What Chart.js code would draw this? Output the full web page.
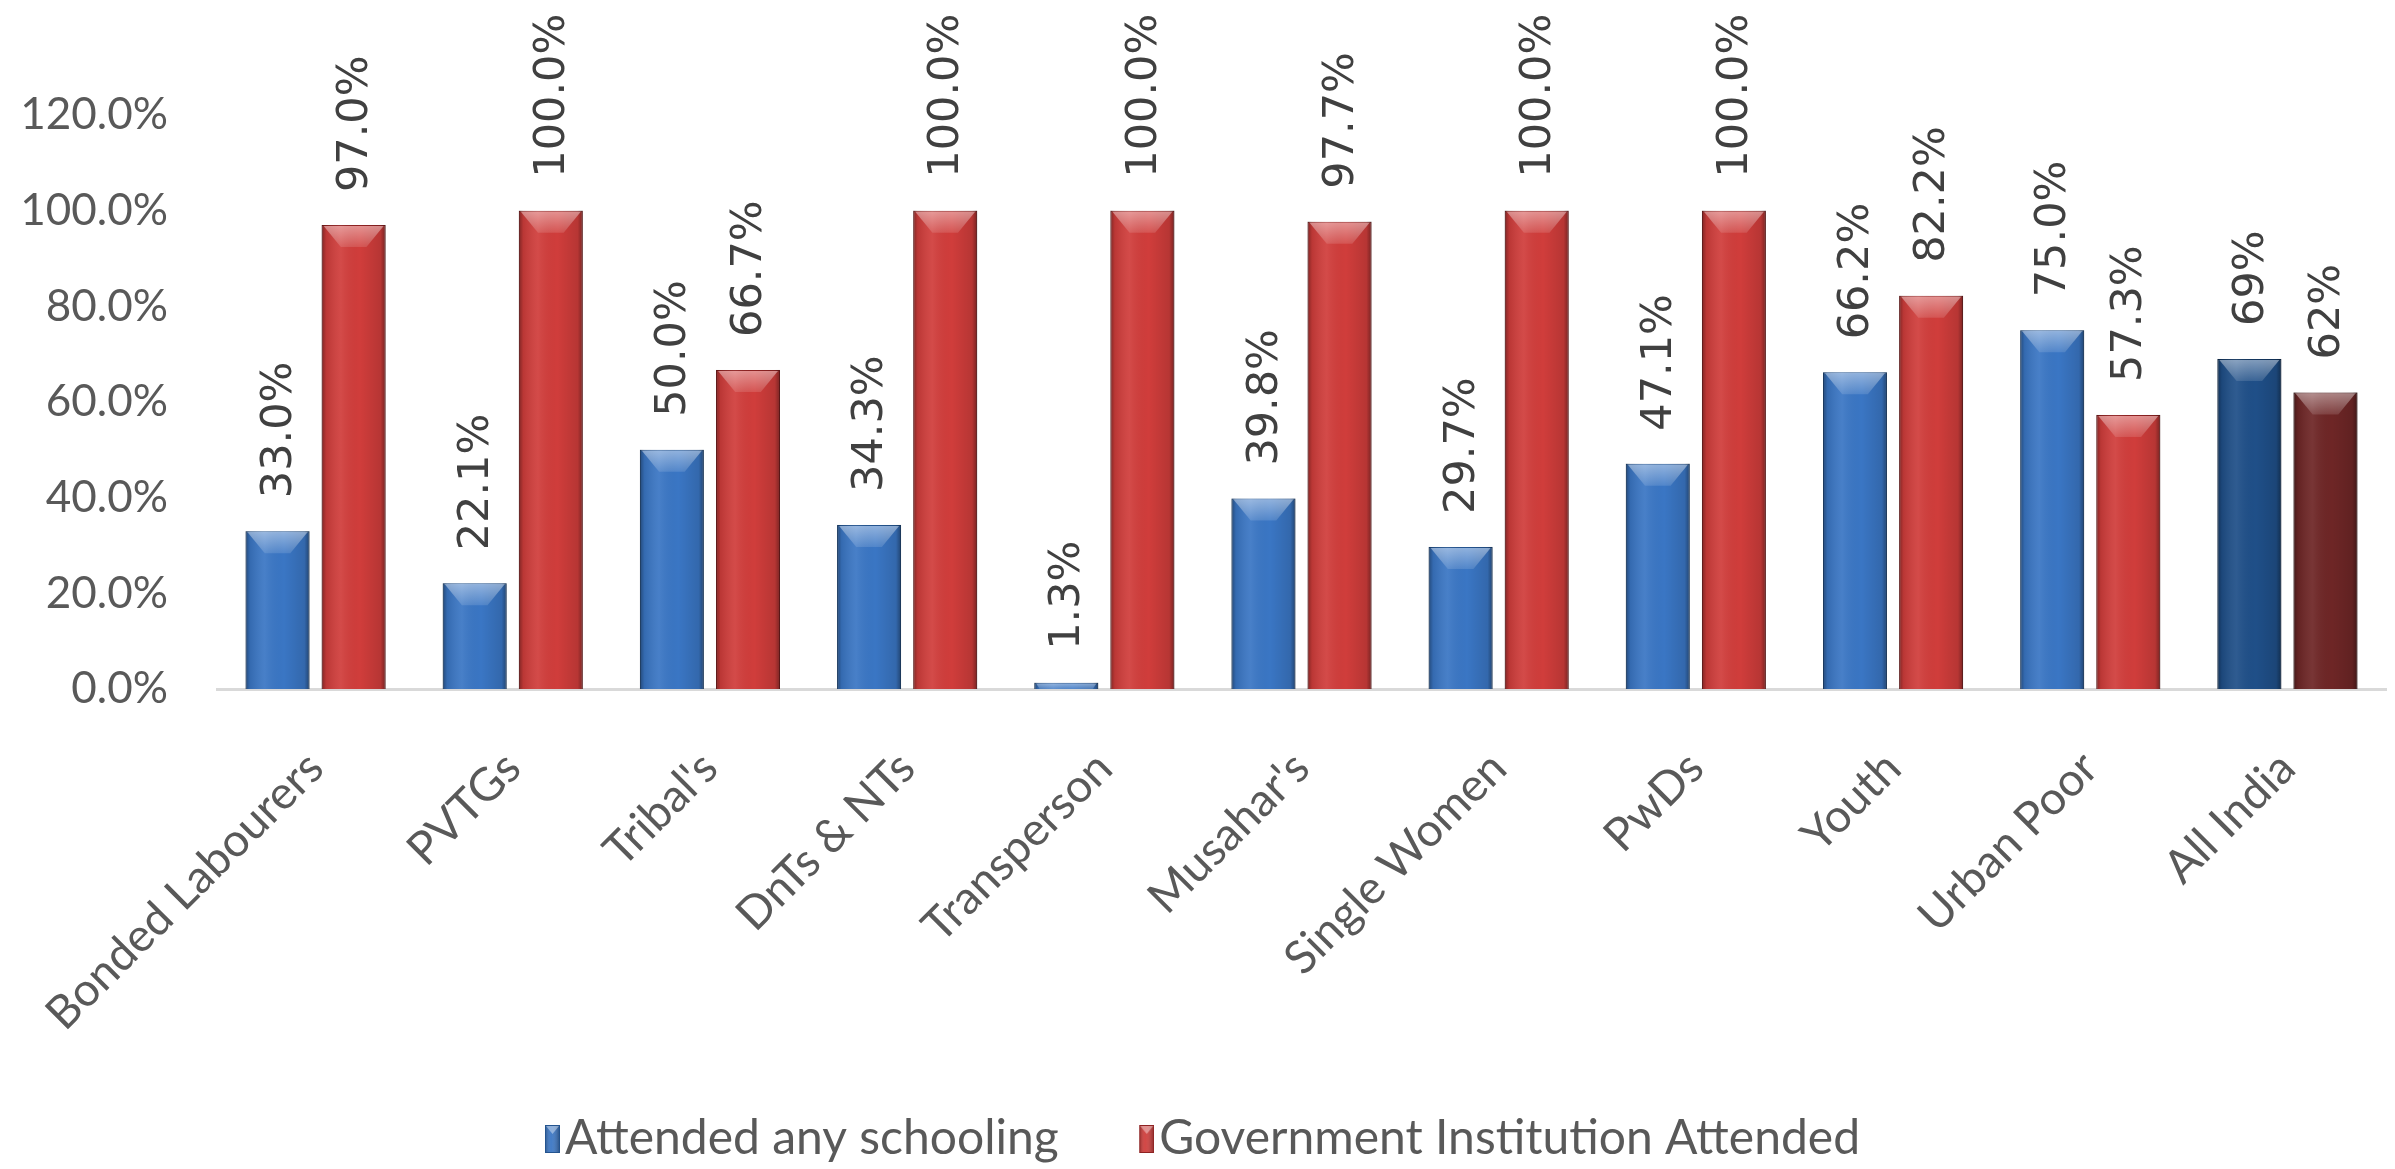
<!DOCTYPE html>
<html>
<head>
<meta charset="utf-8">
<script src="https://cdn.jsdelivr.net/npm/chart.js@4.4.0/dist/chart.umd.min.js"></script>
<style>
html,body{margin:0;padding:0;background:#ffffff;overflow:hidden;}
#wrap{width:2395px;height:1169px;position:relative;}
</style>
</head>
<body>
<div id="wrap"><canvas id="c" width="2395" height="1169"></canvas></div>
<script>
// ---- data ----
const categories = ["Bonded Labourers","PVTGs","Tribal's","DnTs & NTs","Transperson","Musahar's","Single Women","PwDs","Youth","Urban Poor","All India"];
const seriesNames = ["Attended any schooling","Government Institution Attended"];
const schooling = [33.0, 22.1, 50.0, 34.3, 1.3, 39.8, 29.7, 47.1, 66.2, 75.0, 69];
const government = [97.0, 100.0, 66.7, 100.0, 100.0, 97.7, 100.0, 100.0, 82.2, 57.3, 62];
const schoolingLabels = ["33.0%","22.1%","50.0%","34.3%","1.3%","39.8%","29.7%","47.1%","66.2%","75.0%","69%"];
const governmentLabels = ["97.0%","100.0%","66.7%","100.0%","100.0%","97.7%","100.0%","100.0%","82.2%","57.3%","62%"];
const yTickLabels = ["0.0%","20.0%","40.0%","60.0%","80.0%","100.0%","120.0%"];

// ---- styles ----
const BLUE = "#3a76c4", BLUE_DARK = "#1f4f88";
const RED = "#d03d3b", RED_DARK = "#6e2626";
const blueColors = categories.map((c, i) => i === categories.length - 1 ? BLUE_DARK : BLUE);
const redColors = categories.map((c, i) => i === categories.length - 1 ? RED_DARK : RED);
const blueBorders = categories.map((c, i) => i === categories.length - 1 ? "#13365f" : "#24548f");
const redBorders = categories.map((c, i) => i === categories.length - 1 ? "#461515" : "#8e2222");

const dataLabelSets = [schoolingLabels, governmentLabels];
const NB = '\u00a0';

// legend marker: a small bevelled box placed at the right of a transparent canvas
function legendMarker(fill, stroke) {
  const cv = document.createElement('canvas');
  cv.width = 53; cv.height = 28;
  const c = cv.getContext('2d');
  const x0 = 38, w = 15, h = 28;
  c.fillStyle = fill;
  c.fillRect(x0, 0, w, h);
  const g = c.createLinearGradient(x0, 0, x0 + w, 0);
  g.addColorStop(0, 'rgba(0,0,0,0.3)');
  g.addColorStop(0.4, 'rgba(255,255,255,0.05)');
  g.addColorStop(1, 'rgba(0,0,0,0.35)');
  c.fillStyle = g;
  c.fillRect(x0, 0, w, h);
  c.fillStyle = 'rgba(255,255,255,0.4)';
  c.beginPath();
  c.moveTo(x0 + 1, 1); c.lineTo(x0 + w - 1, 1); c.lineTo(x0 + w / 2, 9); c.closePath();
  c.fill();
  c.strokeStyle = stroke; c.lineWidth = 1;
  c.strokeRect(x0 + 0.5, 0.5, w - 1, h - 1);
  return cv;
}

const bevelPlugin = {
  id: 'bevel',
  afterDatasetsDraw(chart) {
    const ctx = chart.ctx;
    chart.data.datasets.forEach((ds, di) => {
      const meta = chart.getDatasetMeta(di);
      meta.data.forEach((el) => {
        const p = el.getProps(['x', 'y', 'base', 'width'], true);
        const l = p.x - p.width / 2, r = p.x + p.width / 2;
        const top = Math.min(p.y, p.base), bot = Math.max(p.y, p.base);
        const h = bot - top;
        if (h <= 0) return;
        ctx.save();
        const g = ctx.createLinearGradient(l, 0, r, 0);
        g.addColorStop(0, 'rgba(0,0,0,0.38)');
        g.addColorStop(0.07, 'rgba(0,0,0,0.10)');
        g.addColorStop(0.3, 'rgba(255,255,255,0.07)');
        g.addColorStop(0.6, 'rgba(0,0,0,0.0)');
        g.addColorStop(0.92, 'rgba(0,0,0,0.12)');
        g.addColorStop(1, 'rgba(0,0,0,0.42)');
        ctx.fillStyle = g;
        ctx.fillRect(l, top, p.width, h);
        const bh = Math.min(22, h);
        const inset = p.width * 0.3 * (bh / 22);
        const g2 = ctx.createLinearGradient(0, top, 0, top + bh);
        g2.addColorStop(0, 'rgba(255,255,255,0.45)');
        g2.addColorStop(1, 'rgba(255,255,255,0.12)');
        ctx.beginPath();
        ctx.moveTo(l + 2, top + 1);
        ctx.lineTo(r - 2, top + 1);
        ctx.lineTo(r - inset, top + bh);
        ctx.lineTo(l + inset, top + bh);
        ctx.closePath();
        ctx.fillStyle = g2;
        ctx.fill();
        ctx.restore();
      });
    });
  }
};

const dataLabelPlugin = {
  id: 'dataLabels',
  afterDatasetsDraw(chart) {
    const ctx = chart.ctx;
    ctx.save();
    ctx.font = '43px "DejaVu Sans"';
    ctx.fillStyle = '#404040';
    ctx.textAlign = 'left';
    ctx.textBaseline = 'middle';
    chart.data.datasets.forEach((ds, di) => {
      const meta = chart.getDatasetMeta(di);
      meta.data.forEach((el, i) => {
        const p = el.getProps(['x', 'y'], true);
        ctx.save();
        ctx.translate(p.x + 2, p.y - 33);
        ctx.rotate(-Math.PI / 2);
        ctx.fillText(dataLabelSets[di][i], 0, 0);
        ctx.restore();
      });
    });
    ctx.restore();
  }
};

function build() {
  const ctx = document.getElementById('c').getContext('2d');
  const markerBlue = legendMarker(BLUE, '#24548f');
  const markerRed = legendMarker(RED, '#8e2222');
  new Chart(ctx, {
    type: 'bar',
    data: {
      labels: categories,
      datasets: [
        { label: seriesNames[0], data: schooling, backgroundColor: blueColors, borderColor: blueBorders, borderWidth: 1,
          categoryPercentage: 0.772, barPercentage: 0.84 },
        { label: seriesNames[1], data: government, backgroundColor: redColors, borderColor: redBorders, borderWidth: 1,
          categoryPercentage: 0.772, barPercentage: 0.84 }
      ]
    },
    options: {
      responsive: false,
      devicePixelRatio: 1,
      animation: false,
      layout: { padding: { top: 115, right: 9, bottom: -4, left: 0 } },
      scales: {
        x: {
          grid: { display: false, drawTicks: false },
          border: { display: true, color: '#d9d9d9', width: 3 },
          ticks: {
            autoSkip: false, minRotation: 45, maxRotation: 45, padding: 52,
            color: '#595959', font: { family: 'Lato', size: 46 }
          },
          afterFit(scale) { scale.height = 426; scale.paddingLeft = 0; scale.paddingRight = 0; }
        },
        y: {
          min: 0, max: 120,
          grid: { display: false, drawTicks: false },
          border: { display: false },
          ticks: {
            stepSize: 20, padding: 49, color: '#595959', font: { family: 'Lato', size: 44 },
            callback: (v) => yTickLabels[Math.round(v / 20)]
          },
          afterFit(scale) { scale.width = 217; }
        }
      },
      plugins: {
        tooltip: { enabled: false },
        legend: {
          position: 'bottom',
          labels: {
            padding: 0, boxWidth: 15, boxHeight: 28, color: '#595959',
            usePointStyle: true, pointStyleWidth: 15,
            font: { family: 'Lato', size: 48 },
            generateLabels: () => [
              { text: seriesNames[0] + NB.repeat(5), pointStyle: markerBlue, fillStyle: BLUE, strokeStyle: '#24548f', lineWidth: 1, hidden: false, datasetIndex: 0, fontColor: '#595959' },
              { text: seriesNames[1], pointStyle: markerRed, fillStyle: RED, strokeStyle: '#8e2222', lineWidth: 1, hidden: false, datasetIndex: 1, fontColor: '#595959' }
            ]
          }
        }
      }
    },
    plugins: [bevelPlugin, dataLabelPlugin]
  });
}

Promise.all([
  document.fonts.load('44px Lato'),
  document.fonts.load('48px Lato'),
  document.fonts.load('43px "DejaVu Sans"')
]).then(build, build);
</script>
</body>
</html>
